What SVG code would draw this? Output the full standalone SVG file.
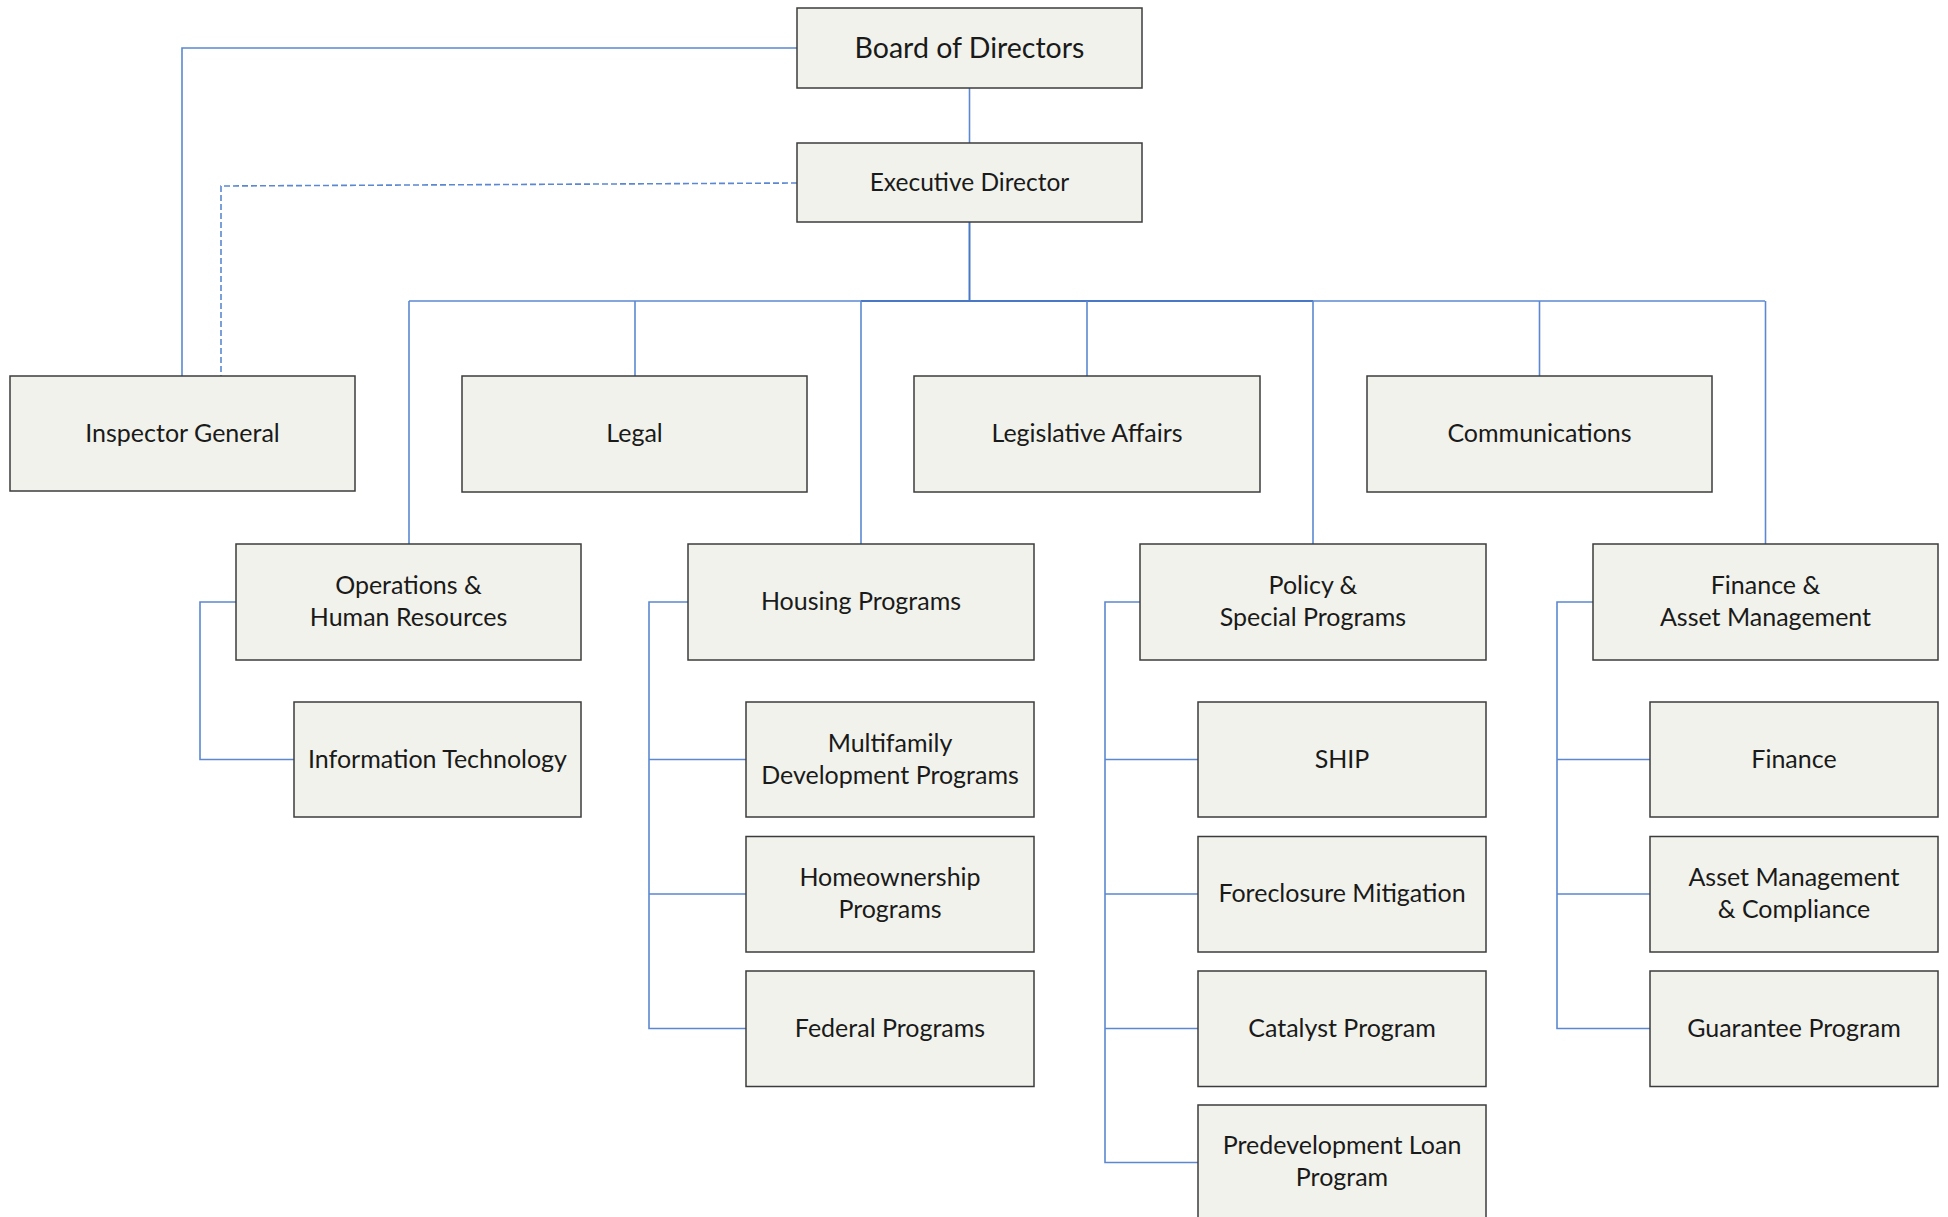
<svg xmlns="http://www.w3.org/2000/svg" width="1948" height="1217" viewBox="0 0 1948 1217">
<style>
.box{fill:#f1f2eb;stroke:#3c3c3c;stroke-width:1.5}
.t{font-family:Lato,"Open Sans",sans-serif;font-size:25px;font-weight:400;fill:#1a1a1a;text-anchor:middle}
.c{fill:none;stroke:#5b88d0;stroke-width:1.6}
.dk{stroke:#4a78c6;stroke-width:2}
.dash{stroke-dasharray:6 3}
</style>
<rect width="1948" height="1217" fill="#ffffff"/>
<g id="connectors">
<path class="c" d="M797 48H182V376"/>
<path class="c dash" d="M797 183L221 186V376"/>
<path class="c" d="M969.5 88V143"/>
<path class="c dk" d="M969.5 222V301"/>
<path class="c" d="M409 301H1765"/>
<path class="c dk" d="M861 301H1313"/>
<path class="c" d="M409 301V544"/>
<path class="c" d="M635 301V376"/>
<path class="c" d="M861 301V544"/>
<path class="c" d="M1087 301V376"/>
<path class="c" d="M1313 301V544"/>
<path class="c" d="M1539.5 301V376"/>
<path class="c" d="M1765.5 301V544"/>
<path class="c" d="M236 602H200V759.5H294"/>
<path class="c" d="M688 602H649V1028.5H746M649 759.5H746M649 894H746"/>
<path class="c" d="M1140 602H1105V1162.5H1198M1105 759.5H1198M1105 894H1198M1105 1028.5H1198"/>
<path class="c" d="M1593 602H1557V1028.5H1650M1557 759.5H1650M1557 894H1650"/>
</g>
<g id="board"><rect class="box" x="797" y="8" width="345" height="80"/><text class="t" x="969.5" y="57.5" style="font-size:28.5px">Board of Directors</text></g>
<g id="exec"><rect class="box" x="797" y="143" width="345" height="79"/><text class="t" x="969.5" y="190.5" style="font-size:24.5px">Executive Director</text></g>
<g id="inspector"><rect class="box" x="10" y="376" width="345" height="115"/><text class="t" x="182.5" y="442">Inspector General</text></g>
<g id="legal"><rect class="box" x="462" y="376" width="345" height="116"/><text class="t" x="634.5" y="442">Legal</text></g>
<g id="legislative"><rect class="box" x="914" y="376" width="346" height="116"/><text class="t" x="1087" y="442">Legislative Affairs</text></g>
<g id="communications"><rect class="box" x="1367" y="376" width="345" height="116"/><text class="t" x="1539.5" y="442">Communications</text></g>
<g id="operations"><rect class="box" x="236" y="544" width="345" height="116"/><text class="t" x="408.5" y="594">Operations &amp;</text><text class="t" x="408.5" y="626">Human Resources</text></g>
<g id="housing"><rect class="box" x="688" y="544" width="346" height="116"/><text class="t" x="861" y="610">Housing Programs</text></g>
<g id="policy"><rect class="box" x="1140" y="544" width="346" height="116"/><text class="t" x="1313" y="594">Policy &amp;</text><text class="t" x="1313" y="626">Special Programs</text></g>
<g id="finance-am"><rect class="box" x="1593" y="544" width="345" height="116"/><text class="t" x="1765.5" y="594">Finance &amp;</text><text class="t" x="1765.5" y="626">Asset Management</text></g>
<g id="it"><rect class="box" x="294" y="702" width="287" height="115"/><text class="t" x="437.5" y="768">Information Technology</text></g>
<g id="multifamily"><rect class="box" x="746" y="702" width="288" height="115"/><text class="t" x="890" y="752">Multifamily</text><text class="t" x="890" y="784">Development Programs</text></g>
<g id="homeownership"><rect class="box" x="746" y="836.5" width="288" height="115.5"/><text class="t" x="890" y="886">Homeownership</text><text class="t" x="890" y="918">Programs</text></g>
<g id="federal"><rect class="box" x="746" y="971" width="288" height="115.5"/><text class="t" x="890" y="1037">Federal Programs</text></g>
<g id="ship"><rect class="box" x="1198" y="702" width="288" height="115"/><text class="t" x="1342" y="768">SHIP</text></g>
<g id="foreclosure"><rect class="box" x="1198" y="836.5" width="288" height="115.5"/><text class="t" x="1342" y="902">Foreclosure Mitigation</text></g>
<g id="catalyst"><rect class="box" x="1198" y="971" width="288" height="115.5"/><text class="t" x="1342" y="1037">Catalyst Program</text></g>
<g id="predevelopment"><rect class="box" x="1198" y="1105" width="288" height="116"/><text class="t" x="1342" y="1154">Predevelopment Loan</text><text class="t" x="1342" y="1186">Program</text></g>
<g id="finance"><rect class="box" x="1650" y="702" width="288" height="115"/><text class="t" x="1794" y="768">Finance</text></g>
<g id="asset-mgmt"><rect class="box" x="1650" y="836.5" width="288" height="115.5"/><text class="t" x="1794" y="886">Asset Management</text><text class="t" x="1794" y="918">&amp; Compliance</text></g>
<g id="guarantee"><rect class="box" x="1650" y="971" width="288" height="115.5"/><text class="t" x="1794" y="1037">Guarantee Program</text></g>
</svg>
